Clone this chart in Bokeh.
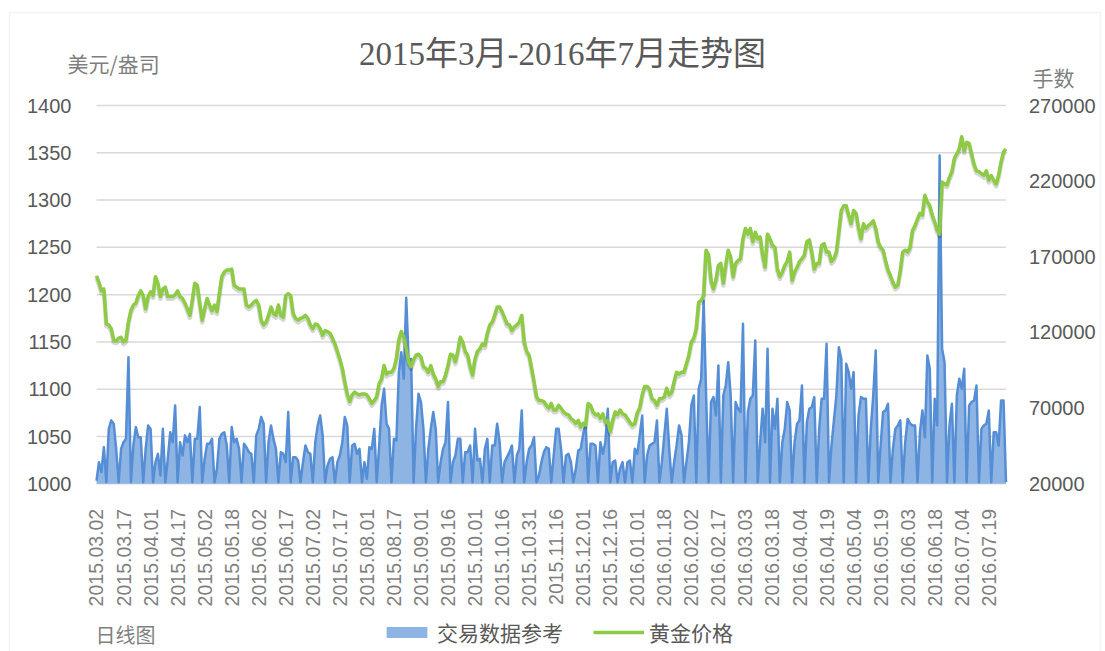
import math
from bokeh.plotting import figure
from bokeh.models import (Range1d, LinearAxis, FixedTicker, Label, Legend,
                          LegendItem, ColumnDataSource, NumeralTickFormatter,
                          BoxAnnotation)
from bokeh.embed import file_html
from bokeh.resources import INLINE

# ---------------- data ----------------
date_labels = [
    "2015.03.02", "2015.03.17", "2015.04.01", "2015.04.17", "2015.05.02",
    "2015.05.18", "2015.06.02", "2015.06.17", "2015.07.02", "2015.07.17",
    "2015.08.01", "2015.08.17", "2015.09.01", "2015.09.16", "2015.10.01",
    "2015.10.16", "2015.10.31", "2015.11.16", "2015.12.01", "2015.12.16",
    "2016.01.01", "2016.01.18", "2016.02.02", "2016.02.17", "2016.03.03",
    "2016.03.18", "2016.04.04", "2016.04.19", "2016.05.04", "2016.05.19",
    "2016.06.03", "2016.06.18", "2016.07.04", "2016.07.19",
]
label_every = 11  # one label per 11 trading days

gold_price = [
    1220, 1213, 1204, 1206, 1169, 1168, 1164, 1152, 1151, 1154,
    1155, 1150, 1152, 1171, 1183, 1189, 1191, 1199, 1204, 1199,
    1185, 1198, 1203, 1199, 1219, 1212, 1198, 1206, 1208, 1198,
    1198, 1198, 1200, 1204, 1198, 1196, 1191, 1185, 1178, 1194,
    1212, 1210, 1191, 1173, 1185, 1196, 1189, 1183, 1189, 1182,
    1201, 1219, 1224, 1226, 1226, 1227, 1210, 1208, 1206, 1206,
    1206, 1189, 1187, 1189, 1192, 1194, 1189, 1173, 1168, 1171,
    1178, 1187, 1180, 1178, 1189, 1178, 1176, 1199, 1201, 1199,
    1180, 1175, 1173, 1175, 1176, 1178, 1175, 1168, 1164, 1169,
    1168, 1164, 1157, 1162, 1161, 1159, 1154, 1148, 1140, 1132,
    1122, 1108, 1095, 1087, 1094, 1097, 1095, 1094, 1095, 1095,
    1094, 1090, 1085, 1088, 1092, 1106, 1111, 1125, 1116, 1118,
    1118, 1122, 1132, 1152, 1161, 1155, 1143, 1129, 1124, 1131,
    1136, 1137, 1134, 1124, 1122, 1118, 1125, 1116, 1111, 1103,
    1108, 1108, 1115, 1125, 1137, 1136, 1129, 1140, 1155, 1150,
    1140, 1136, 1124, 1115, 1132, 1140, 1143, 1148, 1146, 1159,
    1168, 1171, 1178, 1187, 1187, 1182, 1176, 1169, 1168, 1162,
    1166, 1168, 1171, 1178, 1150, 1140, 1136, 1122, 1108, 1092,
    1088, 1088, 1087, 1083, 1080, 1085, 1078, 1078, 1083, 1080,
    1076, 1074, 1073, 1069, 1067, 1064, 1067, 1060, 1064, 1062,
    1085, 1083, 1076, 1073, 1074, 1069, 1074, 1065, 1067, 1055,
    1067, 1076, 1073, 1078, 1074, 1073, 1069, 1065, 1062, 1064,
    1075, 1080, 1094, 1103, 1103, 1100, 1090, 1088, 1083, 1090,
    1090, 1092, 1101, 1094, 1097, 1108, 1118, 1116, 1118, 1118,
    1127, 1136, 1150, 1154, 1164, 1192, 1194, 1199, 1247, 1242,
    1215, 1206, 1215, 1231, 1233, 1212, 1231, 1247, 1240, 1219,
    1233, 1236, 1238, 1259, 1270, 1264, 1270, 1256, 1266, 1259,
    1261, 1242, 1229, 1264, 1259, 1252, 1250, 1227, 1219, 1224,
    1231, 1235, 1245, 1215, 1224, 1229, 1235, 1238, 1242, 1256,
    1258, 1245, 1227, 1233, 1233, 1252, 1254, 1245, 1245, 1235,
    1238, 1245, 1266, 1289, 1294, 1294, 1284, 1275, 1289, 1286,
    1271, 1259, 1275, 1270, 1273, 1275, 1278, 1270, 1256, 1250,
    1247, 1236, 1226, 1220, 1213, 1208, 1210, 1225, 1245, 1247,
    1245, 1250, 1268, 1273, 1280, 1286, 1284, 1305, 1298, 1294,
    1284, 1277, 1268, 1264, 1319, 1317, 1316, 1324, 1330, 1344,
    1349, 1354, 1367, 1352, 1361, 1360, 1349, 1338, 1331, 1330,
    1328, 1326, 1331, 1321, 1326, 1321, 1317, 1326, 1340, 1351,
    1354,
]

volume = [
    22000, 34300, 27700, 44200, 21000, 56300, 61900, 59700, 43100, 21000,
    43100, 47500, 49700, 103700, 21000, 45300, 57500, 50800, 50800, 21000,
    43100, 58600, 56300, 21000, 34300, 39800, 25500, 56300, 21000, 36500,
    54100, 47500, 71800, 21000, 47500, 38700, 52000, 47500, 53000, 21000,
    49700, 49700, 70700, 21000, 36500, 46400, 46400, 49700, 21000, 29900,
    49700, 53000, 54100, 45300, 21000, 57500, 47500, 49700, 43100, 21000,
    46400, 44200, 40900, 39800, 21000, 52000, 56300, 64100, 59700, 21000,
    47500, 58600, 49700, 43100, 21000, 40900, 39800, 34300, 67400, 21000,
    37600, 37600, 35400, 21000, 34300, 45300, 40900, 39800, 21000, 47500,
    58600, 65200, 52000, 21000, 32100, 36500, 37600, 21000, 34300, 38700,
    47500, 64100, 58600, 21000, 45300, 46400, 39800, 43100, 21000, 34300,
    23300, 44200, 43100, 56300, 21000, 45300, 71800, 82800, 59700, 56300,
    21000, 49700, 48600, 93800, 107000, 89400, 142900, 100400, 102600, 21000,
    56300, 79500, 74000, 56300, 21000, 43100, 56300, 67400, 56300, 21000,
    34300, 43100, 47500, 74000, 21000, 34300, 38700, 49700, 49700, 21000,
    40900, 40900, 45300, 21000, 56300, 35400, 36500, 21000, 43100, 49700,
    21000, 45300, 45300, 59700, 47500, 21000, 34300, 37600, 40900, 45300,
    21000, 38700, 43100, 68500, 21000, 34300, 43100, 45300, 50800, 21000,
    25500, 34300, 40900, 44200, 43100, 21000, 38700, 56300, 56300, 43100,
    21000, 38700, 39800, 34300, 21000, 29900, 42000, 43100, 53000, 59700,
    21000, 46400, 46400, 45300, 21000, 47500, 39800, 47500, 69600, 21000,
    34300, 35400, 21000, 29900, 34300, 21000, 34300, 35400, 21000, 43100,
    39800, 52000, 65200, 21000, 38700, 45300, 46400, 47500, 61900, 21000,
    34300, 52000, 69600, 43100, 21000, 34300, 45300, 58600, 52000, 21000,
    34300, 47500, 71800, 78400, 21000, 82800, 89400, 141200, 78400, 21000,
    74000, 77300, 65200, 98200, 21000, 78400, 85000, 100400, 78400, 21000,
    74000, 69600, 67400, 125700, 21000, 67400, 76200, 78400, 114700, 21000,
    47500, 69600, 47500, 109200, 21000, 69600, 56300, 76200, 21000, 47500,
    56300, 74000, 68500, 21000, 47500, 59700, 61900, 85000, 21000, 60800,
    69600, 70700, 77300, 21000, 56300, 76200, 76200, 112500, 21000, 45300,
    61900, 78400, 110300, 102600, 21000, 99300, 93800, 82800, 93800, 21000,
    65200, 77300, 76200, 76200, 21000, 56300, 78400, 108100, 21000, 45300,
    67400, 68500, 72900, 21000, 43100, 56300, 58600, 61900, 21000, 47500,
    62900, 59700, 58600, 58600, 21000, 54100, 68500, 50800, 104800, 96000,
    21000, 76200, 58600, 237000, 109200, 100400, 21000, 58600, 72900, 21000,
    78400, 89400, 82800, 96000, 21000, 71800, 74000, 75100, 85000, 21000,
    56300, 58600, 59700, 68500, 21000, 54100, 54100, 45300, 75100, 75100,
    21000,
]

price_ticks = [1000, 1050, 1100, 1150, 1200, 1250, 1300, 1350, 1400]
volume_ticks = [20000, 70000, 120000, 170000, 220000, 270000]

# ---------------- layout geometry (pixels on the canvas) ----------------
W, H = 1105, 651
PX_L, PX_R = 96.0, 1005.5      # where the first / last trading day sit
PY_TOP, PY_BOT = 105.0, 483.3  # where the top / bottom tick sit

n = len(gold_price)
xs = list(range(n))
xv = list(range(len(volume)))

x_per_px = (n - 1) / (PX_R - PX_L)
p_lo, p_hi = price_ticks[0], price_ticks[-1]
v_lo, v_hi = volume_ticks[0], volume_ticks[-1]
p_per_px = (p_hi - p_lo) / (PY_BOT - PY_TOP)
v_per_px = (v_hi - v_lo) / (PY_BOT - PY_TOP)

x_range = Range1d(-PX_L * x_per_px, (W - PX_L) * x_per_px)
y_range = Range1d(p_lo - (H - PY_BOT) * p_per_px, p_hi + PY_TOP * p_per_px)
vol_range = Range1d(v_lo - (H - PY_BOT) * v_per_px, v_hi + PY_TOP * v_per_px)

GRAY = "#595959"
LIGHT = "#7f7f7f"
CJK = "'Noto Sans CJK SC'"
SANS = "'Liberation Sans', 'Noto Sans CJK SC'"

p = figure(width=W, height=H, output_backend="svg", toolbar_location=None,
           x_range=x_range, y_range=y_range, min_border=0)
p.title.visible = False
p.outline_line_color = None
p.background_fill_color = "white"
p.border_fill_color = "white"
p.extra_y_ranges = {"vol": vol_range}
p.xgrid.visible = False
p.ygrid.visible = False

# thin chart-area border (left / top / right edges as in the reference)
p.add_layout(BoxAnnotation(left=9, right=1100, top=H - 12, bottom=-20,
                           left_units="screen", right_units="screen",
                           top_units="screen", bottom_units="screen",
                           fill_alpha=0, line_color="#d9d9d9", line_width=1.5))

# horizontal grid lines spanning the plot area only
p.segment(x0=[0] * len(price_ticks), x1=[n - 1] * len(price_ticks),
          y0=price_ticks, y1=price_ticks, line_color="#d9d9d9", line_width=1.5)

def style_axis(ax, size, color, standoff):
    ax.axis_line_color = None
    ax.major_tick_line_color = None
    ax.minor_tick_line_color = None
    ax.major_tick_out = 0
    ax.major_tick_in = 0
    ax.major_label_standoff = standoff
    ax.major_label_text_font = SANS
    ax.major_label_text_font_size = size
    ax.major_label_text_color = color

# left axis (price)
la = p.yaxis[0]
la.ticker = FixedTicker(ticks=price_ticks)
la.fixed_location = 0
style_axis(la, "20px", GRAY, 25)

# right axis (volume)
ra = LinearAxis(y_range_name="vol", ticker=FixedTicker(ticks=volume_ticks),
                formatter=NumeralTickFormatter(format="0"))
ra.fixed_location = n - 1
style_axis(ra, "20px", GRAY, 23)
p.add_layout(ra, "right")

# bottom axis (dates)
xa = p.xaxis[0]
xticks = [i * label_every for i in range(len(date_labels))]
xa.ticker = FixedTicker(ticks=xticks)
xa.major_label_overrides = {t: lab for t, lab in zip(xticks, date_labels)}
xa.major_label_orientation = math.pi / 2
xa.fixed_location = p_lo
style_axis(xa, "19.5px", LIGHT, 25)

# volume area
vsrc = ColumnDataSource(dict(x=xv, v=volume, base=[v_lo] * len(volume)))
area_r = p.varea(x="x", y1="base", y2="v", source=vsrc, y_range_name="vol",
                 fill_color="#8EB4E3", fill_alpha=1.0)
p.line(x="x", y="v", source=vsrc, y_range_name="vol",
       line_color="#558ED5", line_width=2.5, line_join="round")

# gold line with soft shadow
shadow = [g - 2.4 for g in gold_price]
p.line(xs, shadow, line_color="black", line_alpha=0.16, line_width=4.5,
       line_join="round")
gold_r = p.line(xs, gold_price, line_color="#8DCB45", line_width=3.5,
                line_join="round")

legend = Legend(items=[LegendItem(label="交易数据参考", renderers=[area_r]),
                       LegendItem(label="黄金价格", renderers=[gold_r])],
                orientation="horizontal", location=(381, 4),
                label_text_font=CJK, label_text_font_size="21px",
                label_text_color=GRAY, glyph_width=51, glyph_height=14,
                label_standoff=5, spacing=30, padding=0, margin=0,
                border_line_color=None, background_fill_alpha=0)
p.add_layout(legend, "center")

# texts (screen units: x from left, y from bottom of the canvas)
def add_label(text, x, y, size, color, font=CJK, align="left"):
    p.add_layout(Label(x=x, y=y, x_units="screen", y_units="screen", text=text,
                       text_font=font, text_font_size=size,
                       text_color=color, text_align=align,
                       text_baseline="middle"))

add_label("2015年3月-2016年7月走势图", 562, H - 53, "33px", GRAY,
          font="'Liberation Serif', 'Noto Sans CJK SC'", align="center")
add_label("美元/盎司", 67, H - 62, "21px", LIGHT)
add_label("手数", 1032, H - 76, "21px", LIGHT)
add_label("日线图", 95, H - 634, "20px", LIGHT)

open("out.html", "w").write(file_html(p, INLINE))
